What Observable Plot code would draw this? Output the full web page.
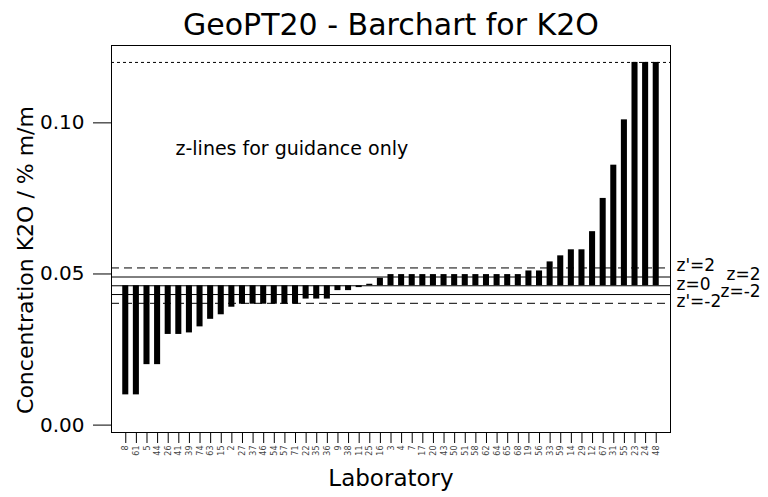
<!DOCTYPE html>
<html>
<head>
<meta charset="utf-8">
<script src="https://cdn.jsdelivr.net/npm/d3@7"></script>
<script src="https://cdn.jsdelivr.net/npm/@observablehq/plot@0.6"></script>
<style>
  html, body { margin: 0; padding: 0; background: #fff; }
</style>
</head>
<body>
<div id="chart"></div>
<script>
const labs = ["8","61","5","44","26","41","39","74","63","15","2","27","37","46","54","57","71","22","35","36","9","38","11","25","16",
              "3","4","7","17","20","43","50","51","58","62","64","65","68",
              "19","56","33","59","14","29","12","67","31","55","23","24","48"];
const values = [0.010,0.010,0.020,0.020,0.030,0.030,0.0305,0.0325,0.035,0.0365,0.039,0.040,0.040,0.040,0.040,0.040,0.040,0.0417,0.0417,0.0417,0.0445,0.0445,0.0455,0.0466,0.0486,
                0.0498,0.0498,0.0498,0.0498,0.0498,0.0498,0.0498,0.0498,0.0498,0.0498,0.0498,0.0498,0.0498,
                0.051,0.051,0.054,0.056,0.058,0.058,0.064,0.075,0.086,0.101,0.120,0.120,0.120];
const assigned = 0.0461;
const zLines = [0.0490, 0.0432];
const zPrimeLines = [0.0520, 0.0403];
const upperLimit = [0.120];
const yTicks = [0.00, 0.05, 0.10];
const titleText = "GeoPT20 - Barchart for K2O";
const yLabel = "Concentration K2O / % m/m";
const xLabel = "Laboratory";
const note = "z-lines for guidance only";

const data = labs.map((lab, i) => ({lab, value: values[i]}));

const font = "DejaVu Sans";
const plot = Plot.plot({
  width: 768,
  height: 497,
  marginLeft: 111,
  marginRight: 98,
  marginTop: 45,
  marginBottom: 65,
  style: {background: "#fff", fontFamily: font, color: "#000", overflow: "visible"},
  x: {type: "band", domain: labs, paddingInner: 0.43, paddingOuter: 1.06, label: null},
  y: {domain: [-0.00245, 0.1256], label: null},
  marks: [
    Plot.barY(data, {x: "lab", y1: assigned, y2: "value", fill: "#000"}),
    Plot.ruleY([assigned], {stroke: "#000", strokeWidth: 1}),
    Plot.ruleY(zLines, {stroke: "#000", strokeWidth: 1}),
    Plot.ruleY(zPrimeLines, {stroke: "#000", strokeWidth: 1, strokeDasharray: "8,5"}),
    Plot.ruleY(upperLimit, {stroke: "#000", strokeWidth: 1, strokeDasharray: "3,3"}),
    Plot.frame({stroke: "#000", strokeWidth: 1}),
    Plot.axisY(yTicks, {tickFormat: d3.format(".2f"), tickSize: 18, tickPadding: 9, fontSize: 20, label: null, stroke: "#000", fill: "#000"}),
    Plot.axisX({tickSize: 11, tickPadding: 2, tickRotate: -90, fontSize: 8, label: null, stroke: "#000", fill: "#444"}),
    Plot.text([zPrimeLines[0]], {y: d => d, text: () => "z'=2", frameAnchor: "right", textAnchor: "start", lineAnchor: "middle", dx: 6, dy: -2, fontSize: 17}),
    Plot.text([zLines[0]], {y: d => d, text: () => "z=2", frameAnchor: "right", textAnchor: "start", lineAnchor: "middle", dx: 56, dy: -2, fontSize: 17}),
    Plot.text([assigned], {y: d => d, text: () => "z=0", frameAnchor: "right", textAnchor: "start", lineAnchor: "middle", dx: 6, dy: -1, fontSize: 17}),
    Plot.text([zLines[1]], {y: d => d, text: () => "z=-2", frameAnchor: "right", textAnchor: "start", lineAnchor: "middle", dx: 50, dy: -3, fontSize: 17}),
    Plot.text([zPrimeLines[1]], {y: d => d, text: () => "z'=-2", frameAnchor: "right", textAnchor: "start", lineAnchor: "middle", dx: 6, dy: -2, fontSize: 17}),
    Plot.text([note], {text: d => d, frameAnchor: "top-left", textAnchor: "start", lineAnchor: "middle", dx: 64, dy: 103, fontSize: 19}),
    Plot.text([titleText], {text: d => d, frameAnchor: "top", textAnchor: "middle", lineAnchor: "middle", dy: -20, fontSize: 30}),
    Plot.text([xLabel], {text: d => d, frameAnchor: "bottom", textAnchor: "middle", lineAnchor: "middle", dy: 46, fontSize: 23}),
    Plot.text([yLabel], {text: d => d, frameAnchor: "left", rotate: -90, textAnchor: "middle", lineAnchor: "middle", dx: -86, dy: 21, fontSize: 22})
  ]
});
document.getElementById("chart").appendChild(plot);
</script>
</body>
</html>
